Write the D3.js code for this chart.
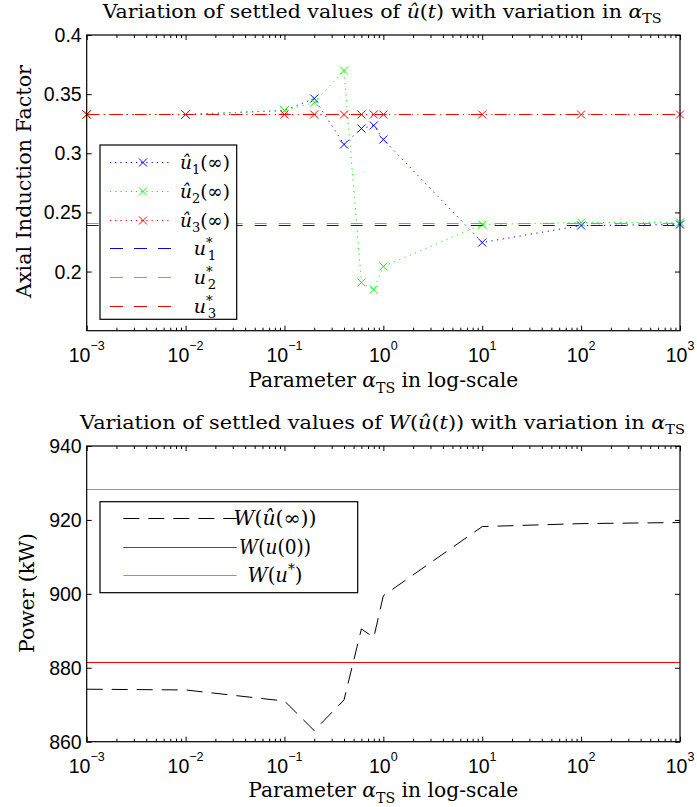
<!DOCTYPE html>
<html>
<head>
<meta charset="utf-8">
<script src="https://cdn.jsdelivr.net/npm/d3@7"></script>
<style>
  html, body { margin: 0; padding: 0; background: #fff; }
  svg { display: block; }
</style>
</head>
<body>
<div id="chart"></div>
<script>
(function () {
  'use strict';

  // values
  var alphaTS = [1e-3, 1e-2, 1e-1, 0.2, 0.4, 0.6, 0.8, 1, 10, 100, 1000];
  var u1Settled = [0.3336, 0.3336, 0.3368, 0.347, 0.308, 0.321, 0.324, 0.312, 0.225, 0.239, 0.240];
  var u2Settled = [0.3336, 0.3336, 0.3362, 0.343, 0.370, 0.191, 0.185, 0.205, 0.240, 0.242, 0.242];
  var u3Settled = [0.3336, 0.3336, 0.3336, 0.3336, 0.3336, 0.3336, 0.3336, 0.3336, 0.3336, 0.3336, 0.3336];
  var uStar = [0.239, 0.241, 0.3336];
  var wSettled = [874.2, 874.0, 871.0, 863.0, 871.3, 890.5, 888.2, 899.5, 918.2, 919.0, 919.3];
  var wInitial = 881.5;
  var wOptimal = 928.5;

  var xDecades = [-3, -2, -1, 0, 1, 2, 3];
  var yTicksTop = [0.2, 0.25, 0.3, 0.35, 0.4];
  var yTicksBottom = [860, 880, 900, 920, 940];

  var seriesColors = ['#0000ff', '#00ff00', '#ff0000'];

  var width = 697, height = 807;
  var serif = '"DejaVu Serif", "Liberation Serif", serif';
  var sans = '"Liberation Sans", Arial, sans-serif';

  var svg = d3.select('#chart').append('svg').attr('width', width).attr('height', height);

  // keep 1px horizontal rules on a pixel row so they keep their colour
  function crisp(v) { return Math.round(v) + 0.5; }

  // text with italic / sub / superscript pieces, fitted to the width it has in the figure
  function richText(g, parts, size, len) {
    var text = g.append('text').attr('font-size', size).attr('font-family', serif).attr('fill', '#000');
    var shift = 0;
    parts.forEach(function (p) {
      var target = p.sub ? size * 0.3 : p.sup ? -size * 0.4 : 0;
      var ts = text.append('tspan').text(p.t).attr('dy', target - shift);
      if (p.dx) ts.attr('dx', p.dx);
      if (p.i) ts.attr('font-style', 'italic');
      if (p.sub || p.sup) ts.attr('font-size', size * 0.7);
      shift = target;
    });
    if (len) text.attr('textLength', len).attr('lengthAdjust', 'spacingAndGlyphs');
    return text;
  }

  var x = d3.scaleLog().domain([1e-3, 1e3]).range([86.7, 680]);
  var majorTicks = xDecades.map(function (e) { return Math.pow(10, e); });
  var minorTicks = [];
  xDecades.slice(0, -1).forEach(function (e) {
    for (var k = 2; k <= 9; k++) minorTicks.push(k * Math.pow(10, e));
  });

  function drawFrame(y, yTicks) {
    var r = y.range();
    var g = svg.append('g');
    var x0 = x.range()[0], x1 = x.range()[1];
    g.append('g').attr('transform', 'translate(0,' + r[0] + ')')
      .call(d3.axisBottom(x).tickValues(majorTicks).tickSizeInner(-5).tickSizeOuter(0).tickFormat(''));
    g.append('g').attr('transform', 'translate(0,' + r[0] + ')')
      .call(d3.axisBottom(x).tickValues(minorTicks).tickSizeInner(-3).tickSizeOuter(0).tickFormat(''));
    g.append('g').attr('transform', 'translate(0,' + r[1] + ')')
      .call(d3.axisTop(x).tickValues(majorTicks).tickSizeInner(-5).tickSizeOuter(0).tickFormat(''));
    g.append('g').attr('transform', 'translate(0,' + r[1] + ')')
      .call(d3.axisTop(x).tickValues(minorTicks).tickSizeInner(-3).tickSizeOuter(0).tickFormat(''));
    g.append('g').attr('transform', 'translate(' + x0 + ',0)')
      .call(d3.axisLeft(y).tickValues(yTicks).tickSizeInner(-5).tickSizeOuter(0).tickFormat(''));
    g.append('g').attr('transform', 'translate(' + x1 + ',0)')
      .call(d3.axisRight(y).tickValues(yTicks).tickSizeInner(-5).tickSizeOuter(0).tickFormat(''));
    g.selectAll('.domain').remove();
    g.selectAll('.tick line').attr('stroke', '#000').attr('stroke-width', 1);
    g.append('rect').attr('x', x0).attr('y', r[1]).attr('width', x1 - x0).attr('height', r[0] - r[1])
      .attr('fill', 'none').attr('stroke', '#000').attr('stroke-width', 1.2);

    // tick labels
    yTicks.forEach(function (v) {
      g.append('text').attr('x', x0 - 5).attr('y', y(v)).attr('dy', '0.36em')
        .attr('text-anchor', 'end').attr('font-family', sans).attr('font-size', 19.5).text(String(v));
    });
    xDecades.forEach(function (e) {
      var t = g.append('text').attr('x', x(Math.pow(10, e))).attr('y', r[0] + 31)
        .attr('text-anchor', 'middle').attr('font-family', sans).attr('font-size', 19.5);
      t.append('tspan').text('10');
      t.append('tspan').attr('dy', -11.5).attr('font-size', 12.5).text(e < 0 ? '\u2212' + (-e) : String(e));
    });
    return g;
  }

  function xLabel(yPos) {
    richText(svg, [{ t: 'Parameter ' }, { t: '\u03b1', i: true }, { t: 'TS', sub: true }, { t: ' in log-scale' }], 20, 270)
      .attr('x', 383.3).attr('y', yPos).attr('text-anchor', 'middle');
  }

  // ---------- top panel ----------
  var yTop = d3.scaleLinear().domain([0.15, 0.4]).range([330.7, 35]);
  var gTop = svg.append('g');
  var settled = [u1Settled, u2Settled, u3Settled];

  settled.forEach(function (vals, i) {
    var line = d3.line().x(function (d, j) { return x(alphaTS[j]); }).y(function (d) { return crisp(yTop(d)); });
    gTop.append('path').datum(vals).attr('d', line).attr('fill', 'none')
      .attr('stroke', seriesColors[i]).attr('stroke-width', 1).attr('stroke-dasharray', '1.2,4.5');
    gTop.selectAll('.mk' + i).data(vals).enter().append('path')
      .attr('transform', function (d, j) { return 'translate(' + x(alphaTS[j]) + ',' + crisp(yTop(d)) + ')'; })
      .attr('d', 'M-4,-4L4,4M-4,4L4,-4').attr('stroke', seriesColors[i]).attr('stroke-width', 1).attr('fill', 'none');
  });
  uStar.forEach(function (v, i) {
    gTop.append('line').attr('x1', x(1e-3)).attr('x2', x(1e3)).attr('y1', crisp(yTop(v))).attr('y2', crisp(yTop(v)))
      .attr('stroke', seriesColors[i]).attr('stroke-width', 1).attr('stroke-dasharray', '12,12');
  });

  drawFrame(yTop, yTicksTop);

  richText(svg, [{ t: 'Variation of settled values of ' }, { t: '\u00fb', i: true }, { t: '(' }, { t: 't', i: true }, { t: ') with variation in ' }, { t: '\u03b1', i: true }, { t: 'TS', sub: true }], 18, 559)
    .attr('x', 382.2).attr('y', 18).attr('text-anchor', 'middle');
  xLabel(387);
  richText(svg, [{ t: 'Axial Induction Factor' }], 20, 233)
    .attr('text-anchor', 'middle').attr('transform', 'translate(31,181.5) rotate(-90)');

  // legend top
  var legTop = svg.append('g');
  legTop.append('rect').attr('x', 100).attr('y', 145).attr('width', 136.7).attr('height', 174.3)
    .attr('fill', '#fff').attr('stroke', '#000').attr('stroke-width', 1.2);
  var topLegendLabels = [
    [{ t: '\u00fb', i: true }, { t: '1', sub: true }, { t: '(\u221e)' }],
    [{ t: '\u00fb', i: true }, { t: '2', sub: true }, { t: '(\u221e)' }],
    [{ t: '\u00fb', i: true }, { t: '3', sub: true }, { t: '(\u221e)' }],
    [{ t: 'u', i: true }, { t: '*', sup: true }, { t: '1', sub: true, dx: -5 }],
    [{ t: 'u', i: true }, { t: '*', sup: true }, { t: '2', sub: true, dx: -5 }],
    [{ t: 'u', i: true }, { t: '*', sup: true }, { t: '3', sub: true, dx: -5 }]
  ];
  topLegendLabels.forEach(function (parts, k) {
    var yy = crisp(162.3 + k * 28.7);
    var c = seriesColors[k % 3];
    legTop.append('line').attr('x1', 110).attr('x2', 172).attr('y1', yy).attr('y2', yy)
      .attr('stroke', c).attr('stroke-width', 1).attr('stroke-dasharray', k < 3 ? '1.2,4' : '13,11');
    if (k < 3) {
      legTop.append('path').attr('transform', 'translate(143,' + yy + ')')
        .attr('d', 'M-4,-4L4,4M-4,4L4,-4').attr('stroke', c).attr('stroke-width', 1).attr('fill', 'none');
    }
    richText(legTop, parts, 19, k < 3 ? 50 : null).attr('x', 205).attr('y', yy + 6).attr('text-anchor', 'middle');
  });

  // ---------- bottom panel ----------
  var yBot = d3.scaleLinear().domain([860, 940]).range([741.7, 446]);
  var gBot = svg.append('g');
  var wLine = d3.line().x(function (d, j) { return x(alphaTS[j]); }).y(function (d) { return yBot(d); });
  gBot.append('path').datum(wSettled).attr('d', wLine).attr('fill', 'none')
    .attr('stroke', '#000').attr('stroke-width', 1).attr('stroke-dasharray', '16,9');
  gBot.append('line').attr('x1', x(1e-3)).attr('x2', x(1e3)).attr('y1', crisp(yBot(wInitial))).attr('y2', crisp(yBot(wInitial)))
    .attr('stroke', '#ff0000').attr('stroke-width', 1);
  gBot.append('line').attr('x1', x(1e-3)).attr('x2', x(1e3)).attr('y1', crisp(yBot(wOptimal))).attr('y2', crisp(yBot(wOptimal)))
    .attr('stroke', '#00ff00').attr('stroke-width', 1);

  drawFrame(yBot, yTicksBottom);

  richText(svg, [{ t: 'Variation of settled values of ' }, { t: 'W', i: true }, { t: '(' }, { t: '\u00fb', i: true }, { t: '(' }, { t: 't', i: true }, { t: ')) with variation in ' }, { t: '\u03b1', i: true }, { t: 'TS', sub: true }], 18, 605)
    .attr('x', 382.5).attr('y', 428.5).attr('text-anchor', 'middle');
  xLabel(797);
  richText(svg, [{ t: 'Power (kW)' }], 20, 120)
    .attr('text-anchor', 'middle').attr('transform', 'translate(34,593) rotate(-90)');

  // legend bottom
  var legBot = svg.append('g');
  legBot.append('rect').attr('x', 100).attr('y', 501.7).attr('width', 257.7).attr('height', 91)
    .attr('fill', '#fff').attr('stroke', '#000').attr('stroke-width', 1.2);
  var botLegend = [
    { parts: [{ t: 'W', i: true }, { t: '(' }, { t: '\u00fb', i: true }, { t: '(\u221e))' }], color: '#000', dash: '16,9', len: 83 },
    { parts: [{ t: 'W', i: true }, { t: '(' }, { t: 'u', i: true }, { t: '(0))' }], color: '#ff0000', dash: null, len: 72 },
    { parts: [{ t: 'W', i: true }, { t: '(' }, { t: 'u', i: true }, { t: '*', sup: true }, { t: ')' }], color: '#00ff00', dash: null, len: 55 }
  ];
  botLegend.forEach(function (d, k) {
    var yy = crisp(518.3 + k * 28.4);
    var ln = legBot.append('line').attr('x1', 123.3).attr('x2', 236.7).attr('y1', yy).attr('y2', yy)
      .attr('stroke', d.color).attr('stroke-width', 1);
    if (d.dash) ln.attr('stroke-dasharray', d.dash);
    richText(legBot, d.parts, 20, d.len).attr('x', 275).attr('y', yy + 6).attr('text-anchor', 'middle');
  });
})();
</script>
</body>
</html>
